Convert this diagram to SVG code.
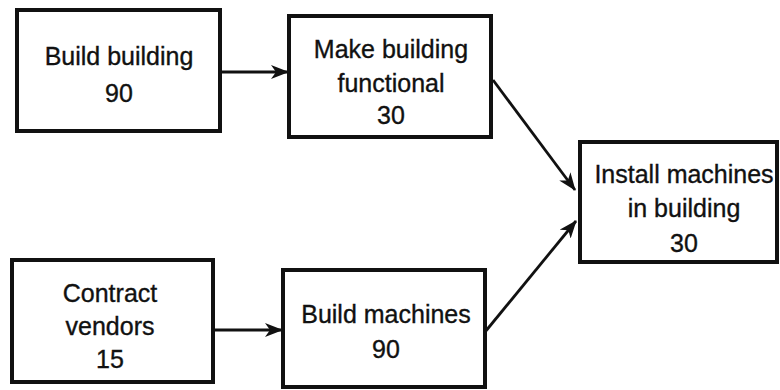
<svg xmlns="http://www.w3.org/2000/svg" width="780" height="390" viewBox="0 0 780 390">
  <style>
    .box { fill: #ffffff; stroke: #111111; stroke-width: 4; }
    .lbl { font-family: "Liberation Sans", Arial, sans-serif; font-size: 25px; fill: #111111; stroke: #111111; stroke-width: 0.35; text-anchor: middle; }
    .edge { stroke: #111111; stroke-width: 2.8; fill: none; marker-end: url(#head); }
  </style>
  <defs>
    <marker id="head" viewBox="0 0 18 14" refX="17" refY="7" markerWidth="18" markerHeight="14" markerUnits="userSpaceOnUse" orient="auto">
      <path d="M0,0 L18,7 L0,14 L5,7 Z" fill="#111111"/>
    </marker>
  </defs>
  <rect width="780" height="390" fill="#ffffff"/>

  <g id="connectors">
    <line class="edge" x1="220" y1="72" x2="288" y2="72"/>
    <line class="edge" x1="213" y1="330" x2="282" y2="330"/>
    <line class="edge" x1="493" y1="80" x2="575" y2="190"/>
    <line class="edge" x1="485" y1="332" x2="576" y2="221"/>
  </g>

  <g id="build-building">
    <rect class="box" x="17" y="10" width="203" height="121"/>
    <text class="lbl" x="119" y="65">Build building</text>
    <text class="lbl" x="119" y="102">90</text>
  </g>

  <g id="make-building-functional">
    <rect class="box" x="289" y="16" width="202" height="121"/>
    <text class="lbl" x="391" y="58">Make building</text>
    <text class="lbl" x="391" y="92">functional</text>
    <text class="lbl" x="391" y="124">30</text>
  </g>

  <g id="contract-vendors">
    <rect class="box" x="12" y="260" width="201" height="122"/>
    <text class="lbl" x="110" y="302">Contract</text>
    <text class="lbl" x="110" y="335">vendors</text>
    <text class="lbl" x="110" y="368">15</text>
  </g>

  <g id="build-machines">
    <rect class="box" x="283" y="270" width="202" height="117"/>
    <text class="lbl" x="386" y="323">Build machines</text>
    <text class="lbl" x="386" y="358">90</text>
  </g>

  <g id="install-machines">
    <rect class="box" x="580" y="142" width="197" height="120"/>
    <text class="lbl" x="684" y="183">Install machines</text>
    <text class="lbl" x="684" y="217">in building</text>
    <text class="lbl" x="684" y="252">30</text>
  </g>
</svg>
